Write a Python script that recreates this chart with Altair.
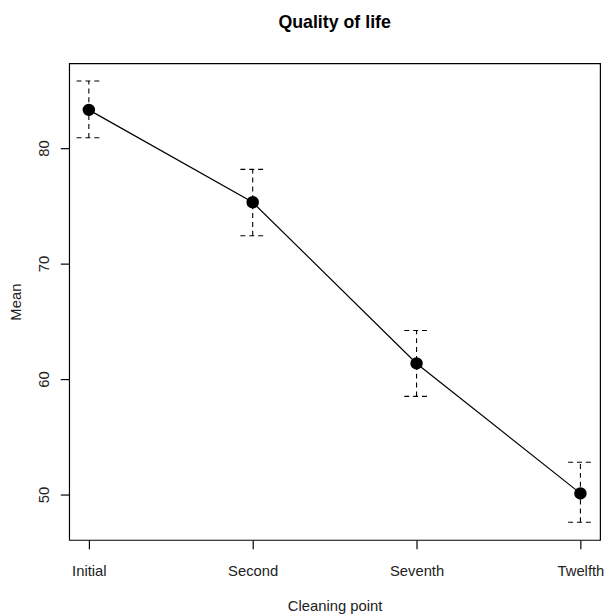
import altair as alt
import pandas as pd
import json

labels = ["Initial", "Second", "Seventh", "Twelfth"]
idx = [1, 2, 3, 4]
means = [83.3, 75.3, 61.35, 50.1]
upper = [85.8, 78.15, 64.2, 52.8]
lower = [80.88, 72.4, 58.5, 47.6]

df = pd.DataFrame({"idx": idx, "label": labels, "mean": means,
                   "upper": upper, "lower": lower})

FONT = "Liberation Sans"
xdom = [0.88, 4.12]
ydom = [46.07, 87.33]
label_expr = json.dumps(labels) + "[datum.value - 1]"

xscale = alt.Scale(domain=xdom, nice=False, zero=False)
yscale = alt.Scale(domain=ydom, nice=False, zero=False)

xaxis = alt.Axis(title="Cleaning point", values=idx, labelExpr=label_expr,
                 grid=False, domain=False, tickSize=9, tickColor="black",
                 tickWidth=1.2, labelPadding=15, labelFontSize=15, labelFont=FONT,
                 labelColor="#222222", titleFont=FONT, titleFontSize=15,
                 titleFontWeight="normal", titleColor="#222222", titlePadding=21,
                 labelFlush=False)
yaxis = alt.Axis(title="Mean", values=[50, 60, 70, 80], grid=False, domain=False,
                 tickSize=9, tickColor="black", tickWidth=1.2, labelAngle=-90,
                 labelAlign="center", labelBaseline="alphabetic",
                 labelPadding=12, labelFontSize=15, labelFont=FONT,
                 labelColor="#222222", titleFont=FONT, titleFontSize=15,
                 titleFontWeight="normal", titleColor="#222222", titlePadding=13)

base = alt.Chart(df)
dash = [5, 4]

vbar = base.mark_rule(color="black", strokeDash=dash, strokeWidth=1.1).encode(
    x=alt.X("idx:Q", scale=xscale, axis=xaxis),
    y=alt.Y("lower:Q", scale=yscale, axis=yaxis),
    y2="upper:Q",
)
cap_top = base.transform_calculate(
    xl="datum.idx - 0.075", xr="datum.idx + 0.075"
).mark_rule(color="black", strokeDash=dash, strokeWidth=1.1).encode(
    x=alt.X("xl:Q", scale=xscale), x2="xr:Q",
    y=alt.Y("upper:Q", scale=yscale),
)
cap_bot = base.transform_calculate(
    xl="datum.idx - 0.075", xr="datum.idx + 0.075"
).mark_rule(color="black", strokeDash=dash, strokeWidth=1.1).encode(
    x=alt.X("xl:Q", scale=xscale), x2="xr:Q",
    y=alt.Y("lower:Q", scale=yscale),
)
line = base.mark_line(color="black", strokeWidth=1.2).encode(
    x=alt.X("idx:Q", scale=xscale),
    y=alt.Y("mean:Q", scale=yscale),
)
pts = base.mark_circle(color="black", opacity=1, size=160).encode(
    x=alt.X("idx:Q", scale=xscale),
    y=alt.Y("mean:Q", scale=yscale),
)

chart = alt.layer(vbar, cap_top, cap_bot, line, pts).properties(
    width=538, height=483,
    background="white",
    title=alt.TitleParams(text="Quality of life", fontSize=18, fontWeight="bold",
                          font=FONT, anchor="middle", color="black", offset=32),
    autosize=alt.AutoSizeParams(type="none"),
    padding={"left": 62, "top": 52, "right": 6, "bottom": 72},
).configure_view(stroke="black", strokeWidth=1.2)

chart.save("out.html", embed_options={"renderer": "svg", "actions": False})
